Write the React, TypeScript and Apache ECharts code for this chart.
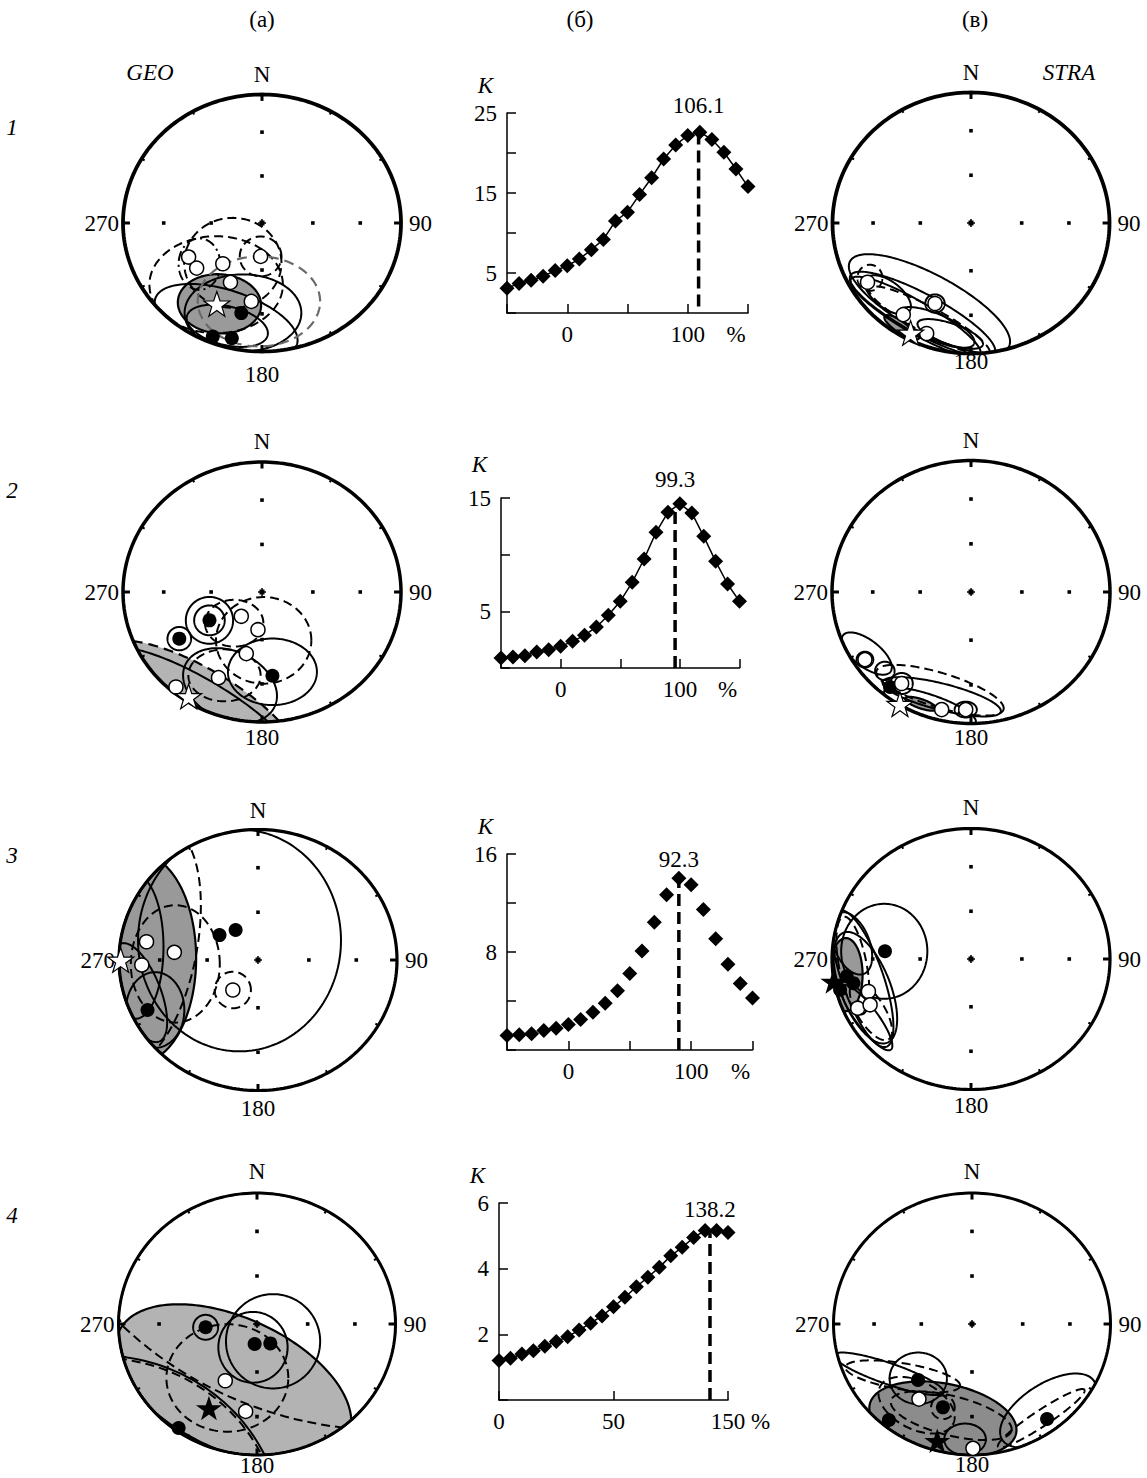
import React, { useEffect, useRef } from "react";
import * as echarts from "echarts";

const FONT = "'Liberation Serif', 'DejaVu Serif', serif";

// ---------- Fold test curves (column б) ----------
const foldX = [-50, -40, -30, -20, -10, 0, 10, 20, 30, 40, 50, 60, 70, 80, 90, 100, 110, 120, 130, 140, 150];
const foldX4 = [0, 7.5, 15, 22.5, 30, 37.5, 45, 52.5, 60, 67.5, 75, 82.5, 90, 97.5, 105, 112.5, 120, 127.5, 135, 142.5, 150];
const foldK1 = [3.1, 3.7, 4.1, 4.6, 5.3, 5.9, 6.75, 7.9, 9.2, 11.5, 12.6, 14.8, 16.9, 19.25, 21.0, 22.2, 22.6, 21.7, 20.1, 18.0, 15.8];
const foldK2 = [0.88, 0.97, 1.09, 1.41, 1.62, 1.91, 2.35, 2.88, 3.62, 4.65, 5.88, 7.56, 9.62, 11.97, 13.74, 14.5, 13.68, 11.62, 9.41, 7.41, 5.88];
const foldK3 = [1.19, 1.24, 1.32, 1.59, 1.78, 2.08, 2.49, 3.08, 3.81, 4.84, 6.24, 8.08, 10.43, 12.68, 14.03, 13.49, 11.46, 9.08, 7.0, 5.43, 4.24];
const foldK4 = [1.2, 1.27, 1.4, 1.5, 1.64, 1.78, 1.93, 2.13, 2.34, 2.56, 2.84, 3.13, 3.45, 3.74, 4.04, 4.39, 4.65, 4.95, 5.16, 5.16, 5.1];
const peakX = [109, 96, 90, 138.2];
const peakTop = [22.6, 14.1, 14.0, 5.16];
const peakBottom = [0.8, 0, 0, 0];
const peakLabels = ["106.1", "99.3", "92.3", "138.2"];
const foldXMin = [-50, -50, -50, 0];
const foldXStep = [50, 50, 50, 75];
const foldYMax = [25, 15, 16, 6];
const foldYStep = [5, 5, 4, 2];
const foldYLabels = [[5, 15, 25], [5, 15], [8, 16], [2, 4, 6]];
const foldXLabels: Record<number, string>[] = [
  { 0: "0", 100: "100", 150: "%" },
  { 0: "0", 100: "100", 150: "%" },
  { 0: "0", 100: "100", 150: "%" },
  { 0: "0", 75: "50", 150: "150 %" },
];
const foldShowLine = [true, true, false, true];

// ---------- Stereonets: equal-area projected directions (x = E, y = N, unit primitive) ----------
type P = number[];
// GEO 1
const geo1Up: P[] = [[-0.528, -0.265], [-0.47, -0.351], [-0.282, -0.317], [-0.01, -0.26], [-0.227, -0.462], [-0.077, -0.61]];
const geo1Down: P[] = [[-0.149, -0.701], [-0.217, -0.896], [-0.354, -0.883]];
const geo1MeanUp: P[] = [[-0.325, -0.629]];
const geo1MeanDown: P[] = [];
const geo1Ovals: any[] = [
  [-0.306, -0.629, 0.30, 0.23, -5, "mean"],
  [-0.21, -0.31, 0.35, 0.35, 0, "upper"],
  [-0.01, -0.26, 0.15, 0.155, 0, "upper"],
  [-0.33, -0.48, 0.48, 0.377, 0, "upper"],
  [-0.022, -0.61, 0.44, 0.35, 0, "upperGray"],
  [-0.258, -0.766, 0.54, 0.24, -20, "lower"],
  [-0.137, -0.70, 0.42, 0.30, 0, "lower"],
  [-0.25, -0.8, 0.3, 0.15, -15, "lower"],
  [-0.45, -0.32, 0.15, 0.2, 0, "mixed"],
];
// GEO 2
const geo2Up: P[] = [[-0.149, -0.187], [-0.029, -0.29], [-0.113, -0.474], [-0.313, -0.659], [-0.619, -0.731]];
const geo2Down: P[] = [[-0.378, -0.218], [-0.595, -0.359], [0.075, -0.644]];
const geo2MeanUp: P[] = [[-0.528, -0.803]];
const geo2MeanDown: P[] = [];
const geo2Ovals: any[] = [
  [-0.45, -0.9, 0.85, 0.3, -33, "meanUpper"],
  [-0.45, -0.93, 0.85, 0.25, -33, "lower"],
  [-0.378, -0.218, 0.17, 0.18, 0, "lower"],
  [-0.378, -0.218, 0.11, 0.115, 0, "lower"],
  [0.012, -0.372, 0.343, 0.333, 0, "upper"],
  [-0.2, -0.24, 0.21, 0.18, 0, "upper"],
  [-0.595, -0.359, 0.085, 0.09, 0, "lower"],
  [0.075, -0.614, 0.32, 0.256, 0, "lower"],
  [-0.23, -0.72, 0.36, 0.26, -30, "lower"],
  [-0.27, -0.641, 0.26, 0.2, 0, "upper"],
];
// GEO 3
const geo3Up: P[] = [[-0.802, 0.14], [-0.602, 0.059], [-0.836, -0.038], [-0.181, -0.23]];
const geo3Down: P[] = [[-0.277, 0.191], [-0.161, 0.23], [-0.795, -0.383]];
const geo3MeanUp: P[] = [[-0.988, 0]];
const geo3MeanDown: P[] = [];
const geo3Ovals: any[] = [
  [-0.855, 0.013, 0.41, 0.8, 0, "mean"],
  [-0.133, 0.15, 0.73, 0.85, 0, "lower"],
  [-0.8, 0.1, 0.92, 0.36, 80, "upper"],
  [-0.595, -0.03, 0.32, 0.45, 0, "upper"],
  [-0.181, -0.23, 0.13, 0.14, 0, "upper"],
  [-0.74, -0.383, 0.21, 0.29, 0, "lower"],
  [-0.88, 0.1, 0.2, 0.55, 0, "lower"],
  [-0.85, -0.25, 0.15, 0.4, 20, "lower"],
];
// GEO 4
const geo4Up: P[] = [[-0.229, -0.433], [-0.082, -0.667]];
const geo4Down: P[] = [[-0.371, -0.025], [-0.017, -0.153], [0.096, -0.148], [-0.566, -0.794]];
const geo4MeanUp: P[] = [];
const geo4MeanDown: P[] = [[-0.347, -0.641]];
const geo4Ovals: any[] = [
  [-0.17, -0.46, 0.92, 0.5, -27, "mean"],
  [0.116, -0.132, 0.34, 0.36, 0, "lower"],
  [-0.029, -0.178, 0.25, 0.27, 0, "lower"],
  [-0.371, -0.025, 0.09, 0.095, 0, "lower"],
  [-0.214, -0.412, 0.44, 0.41, 0, "upper"],
  [0.956, 1.913, 2.725, 2.725, 0, "upper"],
  [-1.144, -1.563, 1.324, 1.324, 0, "lower"],
  [-1.144, -1.563, 1.305, 1.305, 0, "upper"],
];
// STRA 1
const stra1Up: P[] = [[-0.747, -0.454], [-0.26, -0.617], [-0.489, -0.702], [-0.32, -0.847]];
const stra1Down: P[] = [];
const stra1MeanUp: P[] = [[-0.436, -0.842]];
const stra1MeanDown: P[] = [];
const stra1Ovals: any[] = [
  [-0.5, -0.8, 0.15, 0.045, -35, "mean"],
  [-0.3, -0.62, 0.66, 0.22, -30, "lower"],
  [-0.35, -0.70, 0.6, 0.15, -30, "lower"],
  [-0.4, -0.72, 0.55, 0.12, -32, "lower"],
  [-0.3, -0.75, 0.5, 0.1, -30, "upper"],
  [-0.6, -0.55, 0.2, 0.1, -40, "lower"],
  [-0.25, -0.8, 0.3, 0.1, -25, "lower"],
  [-0.73, -0.42, 0.09, 0.1, 0, "upper"],
  [-0.26, -0.617, 0.07, 0.07, 0, "lower"],
  [-0.15, -0.85, 0.25, 0.08, -20, "lower"],
];
// STRA 2
const stra2Up: P[] = [[-0.763, -0.514], [-0.499, -0.696], [-0.211, -0.894], [-0.038, -0.894]];
const stra2Down: P[] = [[-0.583, -0.722]];
const stra2MeanUp: P[] = [[-0.511, -0.853]];
const stra2MeanDown: P[] = [];
const stra2Ovals: any[] = [
  [-0.36, -0.85, 0.12, 0.035, -20, "mean"],
  [-0.75, -0.468, 0.22, 0.1, -40, "lower"],
  [-0.223, -0.747, 0.48, 0.13, -18, "upper"],
  [-0.211, -0.797, 0.44, 0.1, -15, "lower"],
  [-0.295, -0.873, 0.35, 0.09, -20, "lower"],
  [-0.763, -0.514, 0.06, 0.06, 0, "lower"],
  [-0.499, -0.696, 0.08, 0.08, 0, "lower"],
  [-0.62, -0.6, 0.07, 0.07, 0, "lower"],
  [-0.038, -0.894, 0.08, 0.06, 0, "lower"],
];
// STRA 3
const stra3Up: P[] = [[-0.738, -0.249], [-0.815, -0.377], [-0.726, -0.351]];
const stra3Down: P[] = [[-0.619, 0.059], [-0.894, -0.133], [-0.942, -0.236], [-0.846, -0.185]];
const stra3MeanUp: P[] = [];
const stra3MeanDown: P[] = [[-0.99, -0.172]];
const stra3Ovals: any[] = [
  [-0.9, -0.12, 0.12, 0.28, 0, "mean"],
  [-0.624, 0.059, 0.31, 0.364, 0, "lower"],
  [-0.78, -0.15, 0.55, 0.15, -72, "lower"],
  [-0.76, -0.22, 0.45, 0.18, -70, "lower"],
  [-0.85, -0.05, 0.38, 0.1, -80, "upper"],
  [-0.86, 0.12, 0.25, 0.13, -70, "lower"],
  [-0.72, -0.4, 0.25, 0.1, -60, "upper"],
  [-0.75, -0.45, 0.3, 0.08, -55, "lower"],
];
// STRA 4
const stra4Up: P[] = [[-0.383, -0.573], [0.007, -0.949]];
const stra4Down: P[] = [[-0.39, -0.427], [-0.21, -0.636], [-0.6, -0.733], [0.542, -0.725]];
const stra4MeanUp: P[] = [];
const stra4MeanDown: P[] = [[-0.251, -0.891]];
const stra4Ovals: any[] = [
  [-0.21, -0.725, 0.54, 0.27, -12, "mean"],
  [-0.388, -0.415, 0.207, 0.197, 0, "lower"],
  [-0.6, -0.38, 0.42, 0.08, -20, "lower"],
  [-0.5, -0.4, 0.42, 0.1, -10, "upper"],
  [-0.21, -0.636, 0.085, 0.09, 0, "upper"],
  [0.55, -0.66, 0.4, 0.2, 35, "lower"],
  [0.5, -0.72, 0.38, 0.06, 35, "upper"],
  [-0.15, -0.7, 0.45, 0.15, -15, "upper"],
  [-0.05, -0.88, 0.15, 0.12, 0, "lower"],
  [-0.4, -0.62, 0.3, 0.18, -30, "upper"],
];

const nets = [
  { up: geo1Up, down: geo1Down, meanUp: geo1MeanUp, meanDown: geo1MeanDown, ovals: geo1Ovals },
  { up: geo2Up, down: geo2Down, meanUp: geo2MeanUp, meanDown: geo2MeanDown, ovals: geo2Ovals },
  { up: geo3Up, down: geo3Down, meanUp: geo3MeanUp, meanDown: geo3MeanDown, ovals: geo3Ovals },
  { up: geo4Up, down: geo4Down, meanUp: geo4MeanUp, meanDown: geo4MeanDown, ovals: geo4Ovals },
  { up: stra1Up, down: stra1Down, meanUp: stra1MeanUp, meanDown: stra1MeanDown, ovals: stra1Ovals },
  { up: stra2Up, down: stra2Down, meanUp: stra2MeanUp, meanDown: stra2MeanDown, ovals: stra2Ovals },
  { up: stra3Up, down: stra3Down, meanUp: stra3MeanUp, meanDown: stra3MeanDown, ovals: stra3Ovals },
  { up: stra4Up, down: stra4Down, meanUp: stra4MeanUp, meanDown: stra4MeanDown, ovals: stra4Ovals },
];

// ---------- Layout (pixels) ----------
const netLayouts = [
  { cx: 262, cy: 223, rx: 139, ry: 128.5, fill: "#9a9a9a", nGap: 20, sGap: 23, lw: 3.8 },
  { cx: 262, cy: 592, rx: 139, ry: 130, fill: "#b4b4b4", nGap: 21, sGap: 15, lw: 3.5 },
  { cx: 258, cy: 960, rx: 139, ry: 130.5, fill: "#999999", nGap: 19, sGap: 18, lw: 3.2 },
  { cx: 257, cy: 1324, rx: 138.5, ry: 131, fill: "#b3b3b3", nGap: 22, sGap: 10, lw: 3 },
  { cx: 971, cy: 223, rx: 138.5, ry: 130.5, fill: "#9a9a9a", nGap: 20, sGap: 8, lw: 3.8 },
  { cx: 971, cy: 592, rx: 139, ry: 131.5, fill: "#999999", nGap: 20, sGap: 14, lw: 3.5 },
  { cx: 971, cy: 959, rx: 139, ry: 130.5, fill: "#999999", nGap: 21, sGap: 16, lw: 3.2 },
  { cx: 972, cy: 1324, rx: 138.5, ry: 131, fill: "#8c8c8c", nGap: 22, sGap: 9, lw: 3 },
];
const foldLayouts = [
  { left: 507, top: 113, width: 241, height: 200, nameGap: 16, labelDist: 15 },
  { left: 501, top: 498, width: 238.5, height: 170, nameGap: 22, labelDist: 17 },
  { left: 507, top: 854, width: 245.5, height: 196, nameGap: 16, labelDist: 7 },
  { left: 499, top: 1203, width: 229, height: 197, nameGap: 16, labelDist: 9 },
];

const STAR = "path://M50,0 L61.8,35.1 L98.1,35.1 L68.8,56.7 L79.4,91 L50,70 L20.6,91 L31.2,56.7 L1.9,35.1 L38.2,35.1 Z";

const ovalStyles: Record<string, any> = {
  lower: { stroke: "#000", lineWidth: 2, fill: null },
  upper: { stroke: "#000", lineWidth: 2, fill: null, lineDash: [9, 5] },
  upperGray: { stroke: "#6a6a6a", lineWidth: 2.2, fill: null, lineDash: [10, 6] },
  mixed: { stroke: "#000", lineWidth: 2, fill: null, lineDash: [10, 4, 2, 4] },
};

function ellipsePoints(api: any, cx: number, cy: number, a: number, b: number, angDeg: number) {
  const ang = (angDeg * Math.PI) / 180;
  const pts: number[][] = [];
  const n = 200;
  for (let i = 0; i <= n; i++) {
    const t = (i / n) * 2 * Math.PI;
    let ex = cx + a * Math.cos(t) * Math.cos(ang) - b * Math.sin(t) * Math.sin(ang);
    let ey = cy + a * Math.cos(t) * Math.sin(ang) + b * Math.sin(t) * Math.cos(ang);
    const r = Math.hypot(ex, ey);
    if (r > 1) {
      ex /= r;
      ey /= r;
    }
    pts.push(api.coord([ex, ey]));
  }
  return pts;
}

function buildOption() {
  const grid: any[] = [];
  const xAxis: any[] = [];
  const yAxis: any[] = [];
  const series: any[] = [];

  // ---- Stereonets ----
  nets.forEach((net, i) => {
    const L = netLayouts[i];
    const g = grid.length;
    grid.push({ left: L.cx - L.rx, top: L.cy - L.ry, width: 2 * L.rx, height: 2 * L.ry });
    xAxis.push({ gridIndex: g, type: "value", min: -1, max: 1, show: false });
    yAxis.push({ gridIndex: g, type: "value", min: -1, max: 1, show: false });
    const base = { xAxisIndex: g, yAxisIndex: g, coordinateSystem: "cartesian2d", silent: true, animation: false };

    const means = net.ovals.filter((o: any) => o[5] === "mean" || o[5] === "meanUpper");
    series.push({
      ...base,
      type: "custom",
      data: means.map((o: any) => o.slice(0, 5)),
      renderItem: (params: any, api: any) => {
        const o = means[params.dataIndex];
        const pts = ellipsePoints(api, api.value(0), api.value(1), api.value(2), api.value(3), api.value(4));
        return {
          type: "polygon",
          shape: { points: pts },
          style: {
            fill: L.fill,
            stroke: "#000",
            lineWidth: 2.2,
            lineDash: o[5] === "meanUpper" ? [10, 6] : null,
          },
        };
      },
    });

    Object.keys(ovalStyles).forEach((kind) => {
      const list = net.ovals.filter((o: any) => o[5] === kind);
      if (!list.length) return;
      series.push({
        ...base,
        type: "custom",
        data: list.map((o: any) => o.slice(0, 5)),
        renderItem: (params: any, api: any) => {
          const pts = ellipsePoints(api, api.value(0), api.value(1), api.value(2), api.value(3), api.value(4));
          return { type: "polyline", shape: { points: pts }, style: { ...ovalStyles[kind] } };
        },
      });
    });

    // frame: primitive circle, ticks, reference dots and labels
    series.push({
      ...base,
      type: "custom",
      data: [[0, 0]],
      renderItem: (params: any, api: any) => {
        const children: any[] = [];
        const circ: number[][] = [];
        for (let k = 0; k <= 240; k++) {
          const t = (k / 240) * 2 * Math.PI;
          circ.push(api.coord([Math.sin(t), Math.cos(t)]));
        }
        children.push({ type: "polyline", shape: { points: circ }, style: { stroke: "#000", lineWidth: L.lw, fill: null } });
        for (let d = 0; d < 360; d += 30) {
          const t = (d * Math.PI) / 180;
          const major = d % 90 === 0;
          const p1 = api.coord([Math.sin(t), Math.cos(t)]);
          const inner = major ? 0.95 : 0.975;
          const p2 = api.coord([inner * Math.sin(t), inner * Math.cos(t)]);
          children.push({
            type: "line",
            shape: { x1: p1[0], y1: p1[1], x2: p2[0], y2: p2[1] },
            style: { stroke: "#000", lineWidth: major ? 3 : 2 },
          });
        }
        [0, 90, 180, 270].forEach((d) => {
          const t = (d * Math.PI) / 180;
          [0.366, 0.707].forEach((r) => {
            const p = api.coord([r * Math.sin(t), r * Math.cos(t)]);
            children.push({ type: "rect", shape: { x: p[0] - 1.8, y: p[1] - 1.8, width: 3.6, height: 3.6 }, style: { fill: "#000" } });
          });
        });
        const c = api.coord([0, 0]);
        children.push({ type: "rect", shape: { x: c[0] - 2.5, y: c[1] - 2.5, width: 5, height: 5 }, style: { fill: "#000" } });
        children.push({ type: "line", shape: { x1: c[0] - 4, y1: c[1], x2: c[0] + 4, y2: c[1] }, style: { stroke: "#000", lineWidth: 1.5 } });
        children.push({ type: "line", shape: { x1: c[0], y1: c[1] - 4, x2: c[0], y2: c[1] + 4 }, style: { stroke: "#000", lineWidth: 1.5 } });
        const nP = api.coord([0, 1]);
        const sP = api.coord([0, -1]);
        const eP = api.coord([1, 0]);
        const wP = api.coord([-1, 0]);
        const ts = { fontSize: 23, fontFamily: FONT, fill: "#000" };
        children.push({ type: "text", x: nP[0], y: nP[1] - L.nGap, style: { ...ts, text: "N", align: "center", verticalAlign: "middle" } });
        children.push({ type: "text", x: sP[0], y: sP[1] + L.sGap, style: { ...ts, text: "180", align: "center", verticalAlign: "middle" } });
        children.push({ type: "text", x: eP[0] + 8, y: eP[1], style: { ...ts, text: "90", align: "left", verticalAlign: "middle" } });
        children.push({ type: "text", x: wP[0] - 4, y: wP[1], style: { ...ts, text: "270", align: "right", verticalAlign: "middle" } });
        return { type: "group", children };
      },
    });

    const sc = { ...base, type: "scatter", z: 5 };
    series.push({ ...sc, data: net.down, symbol: "circle", symbolSize: 14, itemStyle: { color: "#000", opacity: 1 } });
    series.push({ ...sc, data: net.up, symbol: "circle", symbolSize: 14, itemStyle: { color: "#fff", borderColor: "#000", borderWidth: 1.5, opacity: 1 } });
    series.push({ ...sc, data: net.meanUp, symbol: STAR, symbolKeepAspect: true, symbolSize: 26, itemStyle: { color: "#fff", borderColor: "#000", borderWidth: 1.2, opacity: 1 } });
    series.push({ ...sc, data: net.meanDown, symbol: STAR, symbolKeepAspect: true, symbolSize: 26, itemStyle: { color: "#000", opacity: 1 } });
  });

  // ---- Fold test charts ----
  const foldK = [foldK1, foldK2, foldK3, foldK4];
  foldK.forEach((K, i) => {
    const L = foldLayouts[i];
    const xs = i === 3 ? foldX4 : foldX;
    const g = grid.length;
    grid.push({ left: L.left, top: L.top, width: L.width, height: L.height });
    const axisLineStyle = { color: "#000", width: 1.5 };
    xAxis.push({
      gridIndex: g,
      type: "value",
      min: foldXMin[i],
      max: 150,
      interval: foldXStep[i],
      axisLine: { show: true, onZero: false, lineStyle: axisLineStyle },
      axisTick: { show: true, inside: true, length: 9, lineStyle: axisLineStyle },
      splitLine: { show: false },
      axisLabel: {
        show: true,
        showMinLabel: true,
        showMaxLabel: true,
        margin: 10,
        color: "#000",
        fontFamily: FONT,
        fontSize: 23,
        formatter: (v: number) => {
          const s = foldXLabels[i][v];
          if (!s) return "";
          if (s === "%") return "{p|%}";
          if (s === "150 %") return "{q|150 %}";
          return s;
        },
        rich: {
          p: { padding: [0, 24, 0, 0], fontFamily: FONT, fontSize: 23, color: "#000" },
          q: { padding: [0, 0, 0, 25], fontFamily: FONT, fontSize: 23, color: "#000" },
        },
      },
    });
    yAxis.push({
      gridIndex: g,
      type: "value",
      min: 0,
      max: foldYMax[i],
      interval: foldYStep[i],
      name: "K",
      nameLocation: "end",
      nameGap: L.nameGap,
      nameTextStyle: { fontStyle: "italic", fontFamily: FONT, fontSize: 23, color: "#000", align: "right", padding: [0, 14, 0, 0] },
      axisLine: { show: true, onZero: false, lineStyle: axisLineStyle },
      axisTick: { show: true, inside: true, length: 9, lineStyle: axisLineStyle },
      splitLine: { show: false },
      axisLabel: {
        show: true,
        margin: 10,
        color: "#000",
        fontFamily: FONT,
        fontSize: 23,
        formatter: (v: number) => (foldYLabels[i].indexOf(v) >= 0 ? String(v) : ""),
      },
    });
    const data = xs.map((x, j) => [x, K[j]]);
    series.push({
      type: foldShowLine[i] ? "line" : "scatter",
      xAxisIndex: g,
      yAxisIndex: g,
      data,
      symbol: "diamond",
      symbolSize: 15,
      showSymbol: true,
      itemStyle: { color: "#000", opacity: 1 },
      lineStyle: { color: "#000", width: 1.5 },
      silent: true,
      z: 4,
    });
    series.push({
      type: "line",
      xAxisIndex: g,
      yAxisIndex: g,
      data: [[peakX[i], peakBottom[i]], [peakX[i], peakTop[i]]],
      symbol: "none",
      lineStyle: { color: "#000", width: 3.5, type: [12, 6] },
      silent: true,
      z: 3,
    });
    series.push({
      type: "scatter",
      xAxisIndex: g,
      yAxisIndex: g,
      data: [[peakX[i], peakTop[i]]],
      symbol: "circle",
      symbolSize: 1,
      itemStyle: { color: "rgba(0,0,0,0)", opacity: 1 },
      label: {
        show: true,
        position: "top",
        distance: L.labelDist,
        formatter: peakLabels[i],
        fontFamily: FONT,
        fontSize: 23,
        color: "#000",
        opacity: 1,
      },
      silent: true,
      z: 6,
    });
  });

  const txt = (text: string, x: number, y: number, italic = false, align = "center") => ({
    type: "text",
    x,
    y,
    style: { text, fontFamily: FONT, fontSize: 23, fontStyle: italic ? "italic" : "normal", fill: "#000", align, verticalAlign: "middle" },
  });

  const graphic = [
    txt("(а)", 262, 19),
    txt("(б)", 580, 19),
    txt("(в)", 975, 19),
    txt("GEO", 150, 72, true),
    txt("STRA", 1069, 72, true),
    txt("1", 12, 127, true),
    txt("2", 12, 490, true),
    txt("3", 12, 855, true),
    txt("4", 12, 1215, true),
  ];

  return {
    animation: false,
    backgroundColor: "#fff",
    textStyle: { fontFamily: FONT },
    grid,
    xAxis,
    yAxis,
    series,
    graphic,
  };
}

export default function App() {
  const ref = useRef<HTMLDivElement>(null);
  useEffect(() => {
    if (!ref.current) return;
    const chart = echarts.init(ref.current, undefined, { renderer: "svg" });
    chart.setOption(buildOption() as any);
    return () => chart.dispose();
  }, []);
  return <div ref={ref} style={{ position: "absolute", left: 0, top: 0, width: 1147, height: 1478, background: "#fff" }} />;
}
